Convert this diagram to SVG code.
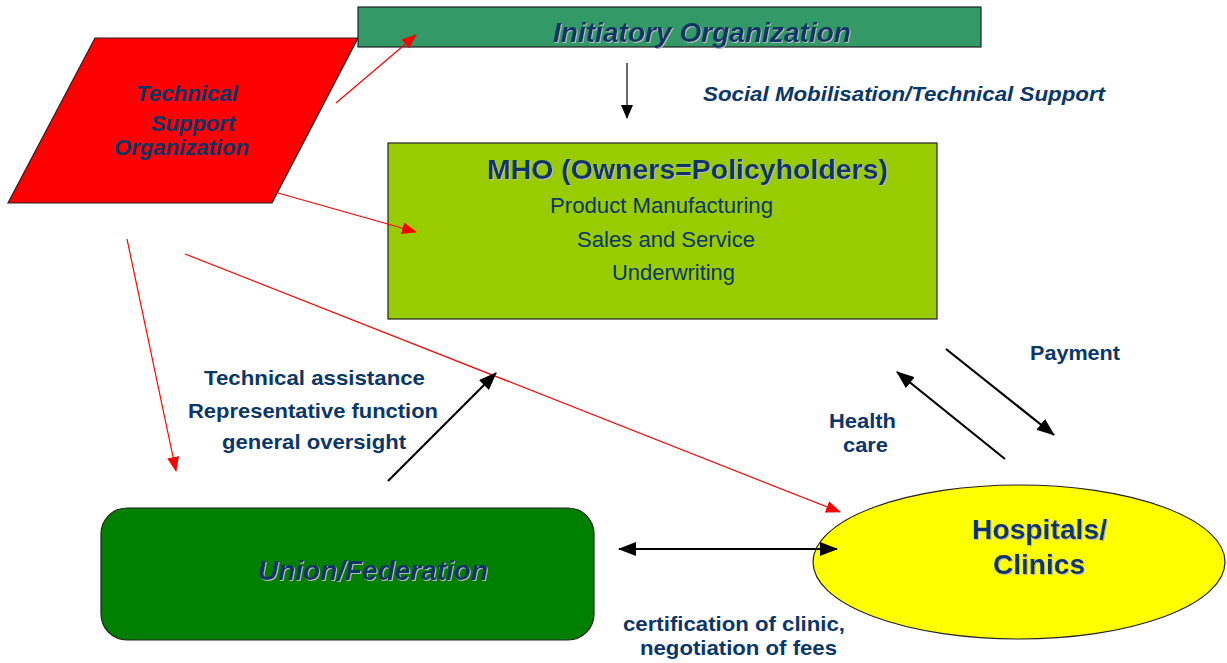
<svg xmlns="http://www.w3.org/2000/svg" width="1227" height="663" viewBox="0 0 1227 663">
<style>
text{font-family:"Liberation Sans",Arial,sans-serif;fill:#0B3668;}
.b{font-weight:bold;}
.bi{font-weight:bold;font-style:italic;}
.red{stroke:#FF0000;stroke-width:1.2;fill:none;}
.blk{stroke:#000;stroke-width:2.2;fill:none;}
.box{stroke:#222;stroke-width:1.2;}
</style>
<defs>
<marker id="ar" markerUnits="userSpaceOnUse" markerWidth="16" markerHeight="12" refX="14" refY="6" orient="auto"><path d="M0,0 L15,6 L0,12 Z" fill="#FF0000"/></marker>
<marker id="ab" markerUnits="userSpaceOnUse" markerWidth="18" markerHeight="14" refX="17" refY="7" orient="auto"><path d="M0,0 L18,7 L0,14 Z" fill="#000"/></marker>
<marker id="abs" markerUnits="userSpaceOnUse" markerWidth="18" markerHeight="14" refX="1" refY="7" orient="auto"><path d="M18,0 L0,7 L18,14 Z" fill="#000"/></marker>
<marker id="at" markerUnits="userSpaceOnUse" markerWidth="14" markerHeight="12" refX="13" refY="6" orient="auto"><path d="M0,0 L14,6 L0,12 Z" fill="#000"/></marker>
<filter id="sh" x="-5%" y="-20%" width="110%" height="140%">
<feOffset in="SourceAlpha" dx="1.3" dy="1.3" result="o"/>
<feFlood flood-color="#b8b8b8"/>
<feComposite in2="o" operator="in"/>
<feMerge><feMergeNode/><feMergeNode in="SourceGraphic"/></feMerge>
</filter>
</defs>

<g id="tso">
<polygon class="box" points="95,38 358,38 272,203 8,203" fill="#FF0000"/>
<text class="bi" x="136" y="101" font-size="22" textLength="102" lengthAdjust="spacingAndGlyphs">Technical</text>
<text class="bi" x="151" y="131" font-size="22" textLength="84" lengthAdjust="spacingAndGlyphs">Support</text>
<text class="bi" x="114" y="155" font-size="22" textLength="135" lengthAdjust="spacingAndGlyphs">Organization</text>
</g>

<g id="initiatory">
<rect class="box" x="358" y="7" width="623" height="40" fill="#339966"/>
<text class="bi" x="553" y="42" font-size="27" textLength="298" lengthAdjust="spacingAndGlyphs" filter="url(#sh)">Initiatory Organization</text>
</g>

<g id="mho">
<rect class="box" x="388" y="143" width="549" height="176" fill="#99CC00"/>
<text class="b" x="487" y="179" font-size="27" textLength="401" lengthAdjust="spacingAndGlyphs" filter="url(#sh)">MHO (Owners=Policyholders)</text>
<text x="550" y="213" font-size="22" textLength="223" lengthAdjust="spacingAndGlyphs">Product Manufacturing</text>
<text x="577" y="247" font-size="22" textLength="178" lengthAdjust="spacingAndGlyphs">Sales and Service</text>
<text x="612" y="280" font-size="22" textLength="123" lengthAdjust="spacingAndGlyphs">Underwriting</text>
</g>

<g id="union">
<rect class="box" x="101" y="508" width="493" height="132" rx="26" ry="26" fill="#007F00"/>
<text class="bi" x="258" y="580" font-size="27" textLength="230" lengthAdjust="spacingAndGlyphs" filter="url(#sh)">Union/Federation</text>
</g>

<g id="hospitals">
<ellipse class="box" cx="1019" cy="562" rx="206" ry="77" fill="#FFFF00"/>
<text class="b" x="972" y="539" font-size="28" textLength="135" lengthAdjust="spacingAndGlyphs" filter="url(#sh)">Hospitals/</text>
<text class="b" x="993" y="574" font-size="28" textLength="92" lengthAdjust="spacingAndGlyphs" filter="url(#sh)">Clinics</text>
</g>

<g id="connectors">
<line class="red" x1="336" y1="103" x2="416" y2="35" marker-end="url(#ar)"/>
<line class="red" x1="278" y1="193" x2="416" y2="232" marker-end="url(#ar)"/>
<line class="red" x1="127" y1="239" x2="176" y2="471" marker-end="url(#ar)"/>
<line class="red" x1="185" y1="254" x2="840" y2="512" marker-end="url(#ar)"/>
<line stroke="#000" stroke-width="1.2" x1="627" y1="63" x2="627" y2="118" marker-end="url(#at)"/>
<line class="blk" x1="388" y1="481" x2="496" y2="373" marker-end="url(#ab)"/>
<line class="blk" x1="1005" y1="459" x2="897" y2="372" marker-end="url(#ab)"/>
<line class="blk" x1="946" y1="349" x2="1054" y2="435" marker-end="url(#ab)"/>
<line class="blk" x1="619" y1="549" x2="837" y2="549" marker-start="url(#abs)" marker-end="url(#ab)"/>
</g>

<g id="labels">
<text class="bi" x="703" y="101" font-size="21" textLength="402" lengthAdjust="spacingAndGlyphs">Social Mobilisation/Technical Support</text>
<text class="b" x="204" y="385" font-size="21" textLength="221" lengthAdjust="spacingAndGlyphs">Technical assistance</text>
<text class="b" x="188" y="418" font-size="21" textLength="250" lengthAdjust="spacingAndGlyphs">Representative function</text>
<text class="b" x="222" y="449" font-size="21" textLength="184" lengthAdjust="spacingAndGlyphs">general oversight</text>
<text class="b" x="1030" y="360" font-size="21" textLength="90" lengthAdjust="spacingAndGlyphs">Payment</text>
<text class="b" x="829" y="428" font-size="21" textLength="67" lengthAdjust="spacingAndGlyphs">Health</text>
<text class="b" x="843" y="452" font-size="21" textLength="45" lengthAdjust="spacingAndGlyphs">care</text>
<text class="b" x="623" y="631" font-size="21" textLength="222" lengthAdjust="spacingAndGlyphs">certification of clinic,</text>
<text class="b" x="640" y="655" font-size="21" textLength="197" lengthAdjust="spacingAndGlyphs">negotiation of fees</text>
</g>
</svg>
